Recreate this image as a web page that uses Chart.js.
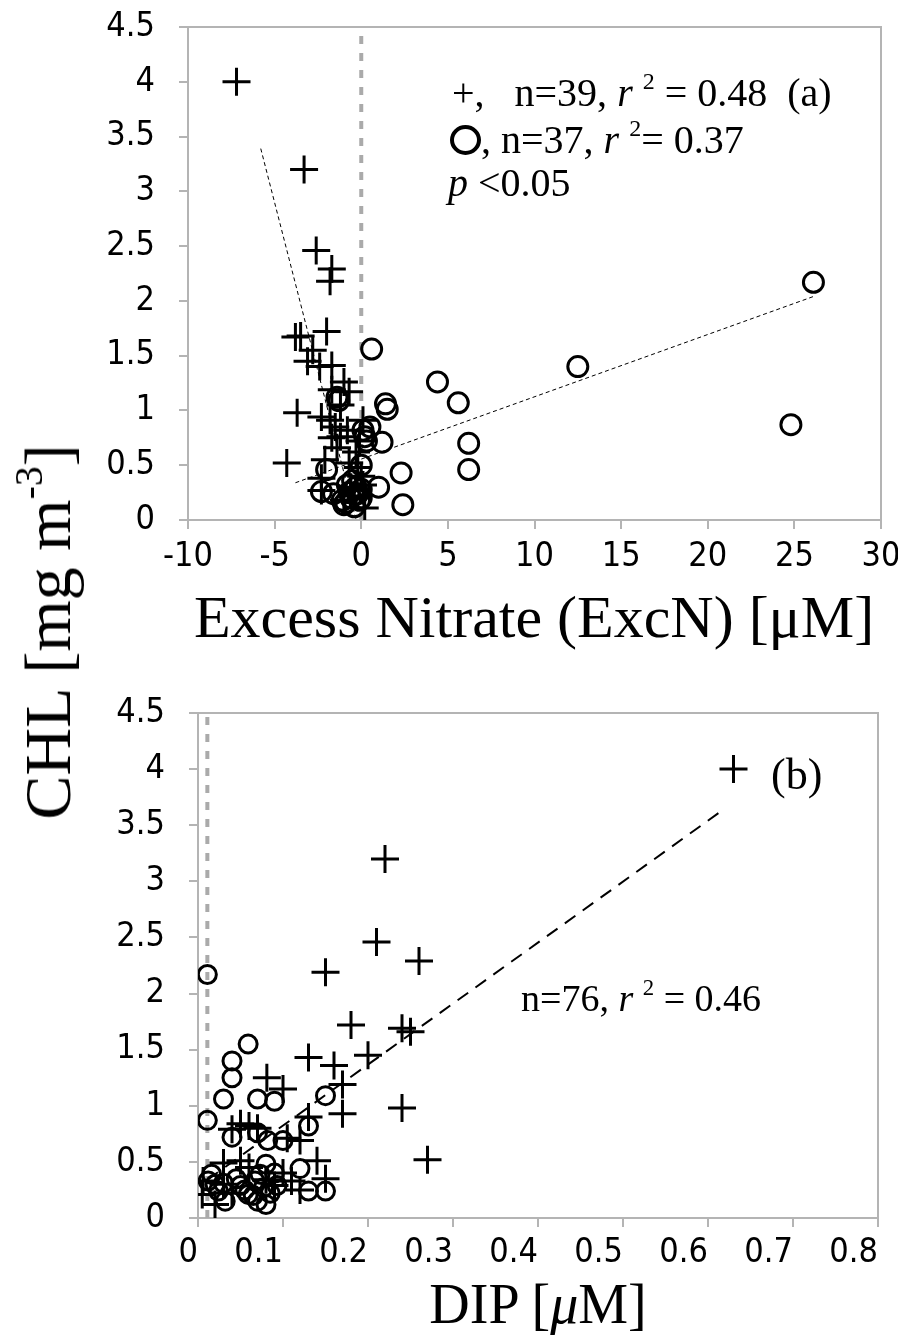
<!DOCTYPE html>
<html>
<head>
<meta charset="utf-8">
<script src="https://cdn.jsdelivr.net/npm/chart.js@4.4.1/dist/chart.umd.min.js"></script>
<style>
  body { margin: 0; background: #fff; }
  #page { position: relative; width: 898px; height: 1340px; overflow: hidden; font-family: 'Liberation Serif', 'Times New Roman', serif; color: #000; }
  canvas { position: absolute; left: 0; }
  .txt { position: absolute; white-space: nowrap; line-height: 1; }
  .txt sup { font-size: 0.6em; vertical-align: 0.7em; line-height: 0; }
  .ring { display: inline-block; width: 23px; height: 22px; border: 4px solid #000; border-radius: 50%; vertical-align: -2px; }
</style>
</head>
<body>
<div id="page">
  <canvas id="chartA" width="898" height="580" style="top:0"></canvas>
  <canvas id="chartB" width="898" height="588" style="top:690px"></canvas>

  <div class="txt" style="left:452px; top:73px; font-size:40px;">+,&nbsp;&nbsp; n=39, <i>r</i> <sup>2</sup> = 0.48&nbsp; (a)</div>
  <div class="txt" style="left:450px; top:120px; font-size:40px;"><span class="ring"></span>, n=37, <i>r</i> <sup>2</sup>= 0.37</div>
  <div class="txt" style="left:448px; top:163px; font-size:40px;"><i>p</i> &lt;0.05</div>

  <div class="txt" style="left:771px; top:753px; font-size:44px;">(b)</div>
  <div class="txt" style="left:521px; top:979px; font-size:38px;">n=76, <i>r</i> <sup>2</sup> = 0.46</div>

  <div class="txt" style="left:0; width:1068px; text-align:center; top:587px; font-size:60px;">Excess Nitrate (ExcN) [μM]</div>
  <div class="txt" style="left:0; width:1076px; text-align:center; top:1276px; font-size:56px;">DIP [<i>μ</i>M]</div>
  <div class="txt" style="left:48px; top:632px; font-size:66px; transform: translate(-50%, -50%) rotate(-90deg);">CHL [mg m<sup>-3</sup>]</div>
</div>

<script>
// panel (a): CHL vs excess nitrate
const excnPlusX = [-7.2, -3.3, -2.6, -1.7, -1.8, -3.8, -3.5, -2.0, -3.1, -2.4, -1.7, -1.0, -1.7, -0.7, -3.7, -2.3, -1.8, -0.8, 0.1, -1.7,
                   -1.2, -4.3, -2.1, -0.7, -0.2, -2.3, -2.3, -1.0, 0.2, -0.3, -1.4, 0.0, -0.6, -1.5, -2.8, -0.4, -0.1, -1.2, 0.1];
const excnPlusY = [4.0, 3.2, 2.46, 2.29, 2.18, 1.67, 1.68, 1.72, 1.45, 1.40, 1.41, 1.26, 1.19, 1.17, 0.98, 0.94, 0.91, 0.82, 0.91, 0.75,
                   0.76, 0.52, 0.55, 0.52, 0.48, 0.38, 0.27, 0.18, 0.11, 0.62, 0.66, 0.40, 0.30, 0.85, 1.55, 0.22, 0.72, 1.05, 0.32];
const excnCircX = [26.1, 24.8, 12.5, 4.4, 5.6, 6.2, 6.2, 0.6, 1.4, 1.5, 1.2, 2.3, 1.0, 2.4, -1.3, -1.4, 0.1, 0.2, 0.5, 0.0,
                   -2.0, -2.3, -1.1, -0.7, -0.3, -1.0, -0.1, -0.5, -0.6, -0.2, -0.8, -0.4, 0.0, -1.6, 0.3, -0.9, 0.0];
const excnCircY = [2.17, 0.87, 1.40, 1.26, 1.07, 0.70, 0.46, 1.56, 1.06, 1.01, 0.71, 0.43, 0.30, 0.14, 1.09, 1.12, 0.82, 0.76, 0.85, 0.50,
                   0.46, 0.26, 0.18, 0.25, 0.30, 0.14, 0.18, 0.36, 0.20, 0.24, 0.32, 0.12, 0.28, 0.24, 0.72, 0.16, 0.20];
const excnPlusFitX = [-5.8, -0.3];
const excnPlusFitY = [3.39, 0.0];
const excnCircFitX = [-3.8, 26.1];
const excnCircFitY = [0.34, 2.04];
const excnZeroX = [0, 0];
const excnZeroY = [0, 4.5];

// panel (b): CHL vs DIP
const dipPlusX = [0.63, 0.22, 0.21, 0.26, 0.15, 0.18, 0.24, 0.25, 0.20, 0.13, 0.16, 0.17, 0.17, 0.24, 0.27, 0.081, 0.10, 0.13, 0.05, 0.07,
                  0.04, 0.105, 0.12, 0.06, 0.03, 0.05, 0.14, 0.15, 0.11, 0.08, 0.006, 0.005, 0.04, 0.09, 0.02, 0.06, 0.12, 0.03, 0.10];
const dipPlusY = [4.0, 3.2, 2.46, 2.29, 2.19, 1.72, 1.69, 1.66, 1.45, 1.43, 1.36, 1.19, 0.93, 0.98, 0.52, 1.25, 1.15, 0.90, 0.84, 0.80,
                  0.79, 0.71, 0.69, 0.82, 0.49, 0.51, 0.51, 0.35, 0.33, 0.34, 0.33, 0.21, 0.22, 0.29, 0.12, 0.45, 0.25, 0.30, 0.40];
const dipCircX = [0.011, 0.059, 0.04, 0.04, 0.03, 0.07, 0.09, 0.15, 0.011, 0.04, 0.07, 0.082, 0.10, 0.13, 0.12, 0.08, 0.09, 0.13, 0.15,
                  0.012, 0.03, 0.024, 0.032, 0.059, 0.07, 0.08, 0.067, 0.077, 0.093, 0.05, 0.073, 0.016, 0.065, 0.085, 0.045, 0.02, 0.055];
const dipCircY = [2.17, 1.55, 1.40, 1.25, 1.06, 1.06, 1.04, 1.09, 0.87, 0.72, 0.76, 0.69, 0.69, 0.82, 0.44, 0.48, 0.40, 0.24, 0.24,
                  0.33, 0.31, 0.24, 0.15, 0.21, 0.15, 0.12, 0.33, 0.27, 0.29, 0.29, 0.39, 0.39, 0.20, 0.22, 0.35, 0.30, 0.25];
const dipFitX = [0.011, 0.62];
const dipFitY = [0.34, 3.65];
const dipZeroX = [0.011, 0.011];
const dipZeroY = [0, 4.5];

// ticks
const excnTicks = [-10, -5, 0, 5, 10, 15, 20, 25, 30];
const dipTicks = [0, 0.1, 0.2, 0.3, 0.4, 0.5, 0.6, 0.7, 0.8];
const chlTicks = [0, 0.5, 1, 1.5, 2, 2.5, 3, 3.5, 4, 4.5];

const axisGray = '#b4b4b4';
// narrow sans like the original; 'condensed' goes into the canvas font shorthand
const tickFont = { family: "'Liberation Sans Narrow', 'DejaVu Sans Condensed', 'DejaVu Sans', sans-serif", size: 34, style: 'condensed' };

const pts = (xs, ys) => xs.map((x, i) => ({ x: x, y: ys[i] }));

// grey box round the plot area (top and right edges)
const framePlugin = {
    id: 'frame',
    beforeDatasetsDraw(chart) {
        const { ctx, chartArea: a } = chart;
        ctx.save();
        ctx.strokeStyle = axisGray;
        ctx.lineWidth = 2;
        ctx.beginPath();
        ctx.moveTo(a.left, a.top);
        ctx.lineTo(a.right, a.top);
        ctx.lineTo(a.right, a.bottom);
        ctx.stroke();
        ctx.restore();
    }
};

function axis(min, max, ticks, fit, pad, align) {
    return {
        type: 'linear',
        min: min,
        max: max,
        afterBuildTicks: s => { s.ticks = ticks.map(v => ({ value: v })); },
        afterFit: s => {
            fit(s);
            // let layout.padding alone place the plot area
            s.paddingLeft = s.paddingRight = s.paddingTop = s.paddingBottom = 0;
        },
        grid: { drawOnChartArea: false, tickLength: 9, color: axisGray, lineWidth: 2 },
        border: { color: axisGray, width: 2 },
        ticks: { font: tickFont, color: '#000', padding: pad, align: align || 'center',
                 maxRotation: 0, autoSkip: false, callback: v => String(v) }
    };
}

function buildPanel(canvasId, cfg) {
    const datasets = [
        { data: pts(cfg.plusX, cfg.plusY), pointStyle: 'cross', pointRadius: 14, pointBorderWidth: 3,
          borderColor: '#000', showLine: false },
        { data: pts(cfg.circX, cfg.circY), pointStyle: 'circle', pointRadius: cfg.circR, pointBorderWidth: 3,
          borderColor: '#000', backgroundColor: 'rgba(0,0,0,0)', showLine: false }
    ];
    cfg.fits.forEach(f => datasets.push({
        data: pts(f.x, f.y), showLine: true, pointRadius: 0, borderColor: '#000',
        borderWidth: f.width, borderDash: f.dash
    }));
    datasets.push({
        data: pts(cfg.zeroX, cfg.zeroY), showLine: true, pointRadius: 0, borderColor: '#aaaaaa',
        borderWidth: 4, borderDash: [8, 9]
    });

    const xAxis = axis(cfg.xMin, cfg.xMax, cfg.xTicks, s => { s.height = 60; }, cfg.xPad, cfg.xAlign);
    const yAxis = axis(0, 4.5, chlTicks, s => { s.width = cfg.yWidth; }, 24);

    return new Chart(document.getElementById(canvasId).getContext('2d'), {
        type: 'scatter',
        data: { datasets },
        options: {
            responsive: false,
            animation: false,
            events: [],
            layout: { padding: cfg.padding },
            plugins: { legend: { display: false }, tooltip: { enabled: false } },
            scales: { x: xAxis, y: yAxis }
        },
        plugins: [framePlugin]
    });
}

buildPanel('chartA', {
    plusX: excnPlusX, plusY: excnPlusY, circX: excnCircX, circY: excnCircY, circR: 10,
    fits: [
        { x: excnPlusFitX, y: excnPlusFitY, width: 1, dash: [4, 3] },
        { x: excnCircFitX, y: excnCircFitY, width: 1, dash: [4, 3] }
    ],
    zeroX: excnZeroX, zeroY: excnZeroY,
    xMin: -10, xMax: 30, xTicks: excnTicks, xPad: 8,
    yWidth: 188, padding: { top: 27, right: 14, left: 0, bottom: 0 }
});

buildPanel('chartB', {
    plusX: dipPlusX, plusY: dipPlusY, circX: dipCircX, circY: dipCircY, circR: 9,
    fits: [ { x: dipFitX, y: dipFitY, width: 2, dash: [13, 9] } ],
    zeroX: dipZeroX, zeroY: dipZeroY,
    xMin: 0, xMax: 0.8, xTicks: dipTicks, xPad: 6, xAlign: 'end',
    yWidth: 198, padding: { top: 23, right: 20, left: 0, bottom: 0 }
});
</script>
</body>
</html>
